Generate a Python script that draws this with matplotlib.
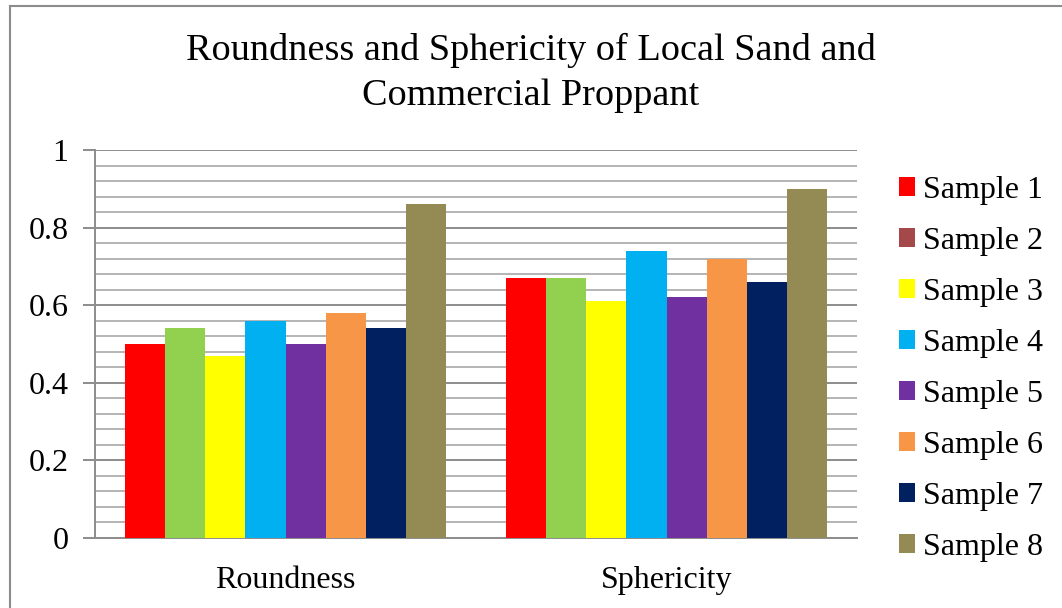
import matplotlib.pyplot as plt
import numpy as np
from matplotlib.lines import Line2D
from matplotlib.patches import Patch

categories = ['Roundness', 'Sphericity']
samples = ['Sample %d' % i for i in range(1, 9)]
values = [
    [0.50, 0.67],  # Sample 1
    [0.54, 0.67],  # Sample 2
    [0.47, 0.61],  # Sample 3
    [0.56, 0.74],  # Sample 4
    [0.50, 0.62],  # Sample 5
    [0.58, 0.72],  # Sample 6
    [0.54, 0.66],  # Sample 7
    [0.86, 0.90],  # Sample 8
]
bar_colors = ['#FF0000', '#92D050', '#FFFF00', '#00B0F0',
              '#7030A0', '#F79646', '#002060', '#948A54']
legend_colors = ['#FF0000', '#A5484A', '#FFFF00', '#00B0F0',
                 '#7030A0', '#F79646', '#002060', '#948A54']

plt.rcParams['font.family'] = ['Liberation Serif', 'DejaVu Serif']

fig = plt.figure(figsize=(10.62, 6.08), dpi=100)
ax = fig.add_axes([95 / 1062, 1 - 538 / 608, 762 / 1062, 388 / 608])

x = np.arange(len(categories))
width = 0.84 / len(samples)
for i, (vals, color) in enumerate(zip(values, bar_colors)):
    offset = (i - (len(samples) - 1) / 2) * width
    ax.bar(x + offset, vals, width, color=color, zorder=3)

ax.set_xlim(-0.5, len(categories) - 0.5)
ax.set_ylim(0, 1)
ax.set_yticks(np.arange(0, 1.01, 0.2))
ax.set_yticklabels(['0', '0.2', '0.4', '0.6', '0.8', '1'])
ax.set_yticks(np.arange(0, 1.001, 0.04), minor=True)
ax.set_xticks(x)
ax.set_xticklabels(categories)

# gridlines: light minor every 0.04, darker major every 0.2
ax.grid(axis='y', which='minor', color='#b4b4b4', linewidth=1.4, zorder=0)
ax.grid(axis='y', which='major', color='#8c8c8c', linewidth=1.4, zorder=1)
ax.grid(axis='x', visible=False)

for side in ['top', 'right']:
    ax.spines[side].set_visible(False)
ax.spines['left'].set_color('#8c8c8c')
ax.spines['bottom'].set_color('#8c8c8c')
ax.spines['left'].set_linewidth(1.4)
ax.spines['bottom'].set_linewidth(1.4)

ax.tick_params(axis='y', which='major', length=9, width=1.4, color='#8c8c8c',
               labelsize=23, pad=10)
ax.tick_params(axis='y', which='minor', length=0)
ax.tick_params(axis='x', length=0, labelsize=23, pad=20)

fig.text(0.5, 1 - 50 / 608, 'Roundness and Sphericity of Local Sand and',
         ha='center', va='center', fontsize=27.5)
fig.text(0.5, 1 - 96 / 608, 'Commercial Proppant',
         ha='center', va='center', fontsize=27.5)

handles = [Patch(facecolor=c, edgecolor='none') for c in legend_colors]
fig.legend(handles, samples, loc='upper left',
           bbox_to_anchor=(886 / 1062, 1 - 163 / 608), frameon=False,
           fontsize=23, handlelength=0.52, handleheight=0.52,
           handletextpad=0.25, labelspacing=0.69, borderaxespad=0)

# chart area border (left and top edges)
fig.add_artist(Line2D([10 / 1062, 10 / 1062], [0, 1 - 6 / 608],
                      transform=fig.transFigure, color='#8c8c8c', lw=1.5))
fig.add_artist(Line2D([10 / 1062, 1], [1 - 6 / 608, 1 - 6 / 608],
                      transform=fig.transFigure, color='#8c8c8c', lw=1.5))

fig.savefig('out.png', dpi=100)
